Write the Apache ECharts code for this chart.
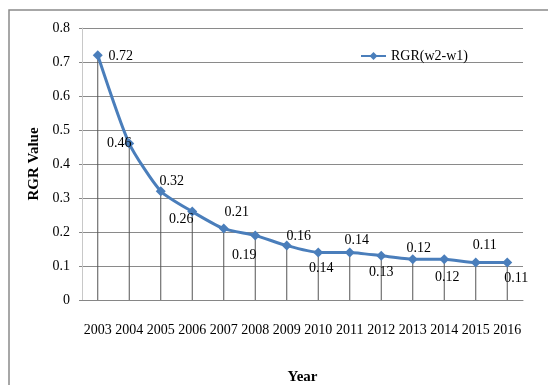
<!DOCTYPE html>
<html><head><meta charset="utf-8">
<script src="https://cdn.jsdelivr.net/npm/echarts@6/dist/echarts.min.js"></script>
<style>html,body{margin:0;padding:0;background:#fff}#c{width:548px;height:385px}</style>
</head><body><div id="c"></div>
<script>
var years = ['2003','2004','2005','2006','2007','2008','2009','2010','2011','2012','2013','2014','2015','2016'];
var rgrValues = [0.72,0.46,0.32,0.26,0.21,0.19,0.16,0.14,0.14,0.13,0.12,0.12,0.11,0.11];
var seriesName = 'RGR(w2-w1)';
var yTicks = [0,0.1,0.2,0.3,0.4,0.5,0.6,0.7,0.8];

// label offsets (styling only), relative to each point
var labelOffsets = [[23,1],[-10,0],[11,-10],[-11,8],[13,-16],[-11,20],[12,-9],[3,16],[7,-12],[0,17],[6,-11],[3,18],[9,-17],[9,16]];

var font = 'Liberation Serif';
var chart = echarts.init(document.getElementById('c'));
chart.setOption({
  animation:false,
  textStyle:{fontFamily:font},
  graphic:[{type:'rect',shape:{x:9,y:10,width:600,height:420},style:{fill:'none',stroke:'#8a8a8a',lineWidth:1.5},silent:true}],
  grid:{left:82,right:25,top:28,bottom:85,outerBoundsMode:'none',containLabel:false},
  legend:{data:[seriesName],left:355,top:44,itemWidth:25,itemHeight:10,
    textStyle:{fontFamily:font,fontSize:14,color:'#000'}},
  xAxis:{type:'category',data:years,boundaryGap:true,
    name:'Year',nameLocation:'middle',nameGap:70,
    nameTextStyle:{fontFamily:font,fontSize:15,fontWeight:'bold',color:'#000'},
    axisLine:{lineStyle:{color:'#868686'}},axisTick:{show:false},
    axisLabel:{fontFamily:font,fontSize:14,color:'#000',margin:23,interval:0}},
  yAxis:{type:'value',min:yTicks[0],max:yTicks[yTicks.length-1],interval:0.1,
    name:'RGR Value',nameLocation:'middle',nameGap:37,
    nameTextStyle:{fontFamily:font,fontSize:15,fontWeight:'bold',color:'#000'},
    axisLine:{show:true,lineStyle:{color:'#c8c8c8'}},
    axisTick:{show:true,length:3,lineStyle:{color:'#868686'}},
    axisLabel:{fontFamily:font,fontSize:14,color:'#000',margin:12,
      formatter:function(v){return String(Math.round(v*10)/10);}},
    splitLine:{lineStyle:{color:'#8a8a8a'}}},
  series:[
    {type:'bar',data:rgrValues,barWidth:1,silent:true,
      itemStyle:{color:'#555'},legendHoverLink:false,z:1},
    {name:seriesName,type:'line',data:rgrValues.map(function(v,i){
        return {value:v,label:{offset:labelOffsets[i]}};}),
      smooth:0.2,symbol:'diamond',symbolSize:10,z:3,
      lineStyle:{color:'#4a7ebb',width:3},itemStyle:{color:'#4a7ebb'},
      label:{show:true,position:'inside',fontFamily:font,fontSize:14,color:'#000',
        formatter:function(p){return String(p.value);}}}
  ]
});
</script></body></html>
